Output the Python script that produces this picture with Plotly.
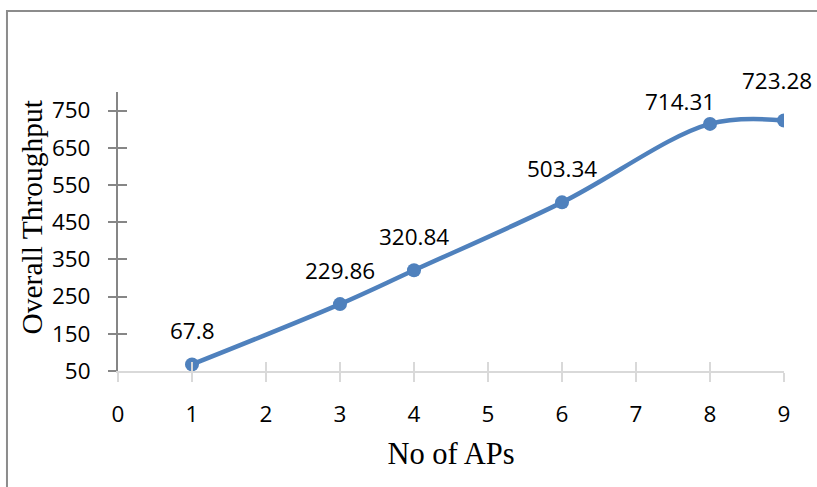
import plotly.graph_objects as go

# Number of access points and the overall throughput measured for each
aps = [1, 3, 4, 6, 8, 9]
throughput = [67.8, 229.86, 320.84, 503.34, 714.31, 723.28]
value_labels = ["67.8", "229.86", "320.84", "503.34", "714.31", "723.28"]

x_ticks = [0, 1, 2, 3, 4, 5, 6, 7, 8, 9]
y_ticks = [50, 150, 250, 350, 450, 550, 650, 750]

# pixel offsets of each value label relative to its point
label_dx = [0, 0, 0, 0, -30, -7]
label_dy = [34, 34, 34, 34, 22, 40]

BLUE = "#4f81bd"
LABEL_FONT = dict(family="Open Sans", size=22.5, color="#000000")
X_TITLE_FONT = dict(family="Liberation Serif", size=30.5, color="#000000")
Y_TITLE_FONT = dict(family="Liberation Serif", size=29.5, color="#000000")

fig = go.Figure()
fig.add_trace(go.Scatter(
    x=aps, y=throughput,
    mode="lines+markers",
    line=dict(color=BLUE, width=4.5, shape="spline", smoothing=1),
    marker=dict(color=BLUE, size=14),
    showlegend=False,
    hoverinfo="x+y",
))

for xv, yv, txt, dx, dy in zip(aps, throughput, value_labels, label_dx, label_dy):
    fig.add_annotation(
        x=xv, y=yv, text=txt, showarrow=False,
        xshift=dx, yshift=dy, font=LABEL_FONT,
    )

# vertical axis title, set a little above the plot's centre
fig.add_annotation(
    xref="paper", yref="paper", x=0, y=0.55, xshift=-86,
    xanchor="center", yanchor="middle", textangle=-90,
    text="Overall Throughput", showarrow=False, font=Y_TITLE_FONT,
)

axis_common = dict(showgrid=False, zeroline=False)

fig.update_layout(
    width=817, height=487,
    margin=dict(l=118, r=33, t=92, b=116),
    paper_bgcolor="white", plot_bgcolor="white",
    xaxis=dict(
        range=[0, 9], tickvals=x_ticks, ticktext=[str(v) for v in x_ticks],
        showline=True, linecolor="#d9d9d9", linewidth=2,
        ticks="outside", ticklen=9, tickwidth=2, tickcolor="#d9d9d9",
        tickfont=LABEL_FONT, ticklabelstandoff=13,
        title=dict(text="No of APs", font=X_TITLE_FONT, standoff=15),
        **axis_common,
    ),
    yaxis=dict(
        range=[50, 800], tickvals=y_ticks, ticktext=[str(v) for v in y_ticks],
        showline=True, linecolor="#868686", linewidth=2,
        ticks="outside", ticklen=8, tickwidth=2, tickcolor="#868686",
        tickfont=LABEL_FONT, ticklabelstandoff=13,
        **axis_common,
    ),
    # duplicate axes supply the inward half of the crossing tick marks
    xaxis2=dict(
        range=[0, 9], tickvals=x_ticks, overlaying="x", side="bottom",
        anchor="y", ticks="inside", ticklen=9, tickwidth=2, tickcolor="#d9d9d9",
        showticklabels=False, showline=False, **axis_common,
    ),
    yaxis2=dict(
        range=[50, 800], tickvals=y_ticks, overlaying="y", side="left",
        anchor="x", ticks="inside", ticklen=9, tickwidth=2, tickcolor="#868686",
        showticklabels=False, showline=False, **axis_common,
    ),
)

# invisible trace so the duplicate axes are drawn
fig.add_trace(go.Scatter(
    x=[aps[0]], y=[throughput[0]], xaxis="x2", yaxis="y2",
    mode="markers", marker=dict(opacity=0), showlegend=False, hoverinfo="skip",
))

# chart frame
fig.add_shape(
    type="rect", xref="paper", yref="paper",
    x0=-0.1667, x1=1.2, y0=-0.6, y1=1.29,
    line=dict(color="#8c8c8c", width=2), fillcolor="rgba(0,0,0,0)",
    layer="below",
)

fig.write_html("out.html")
